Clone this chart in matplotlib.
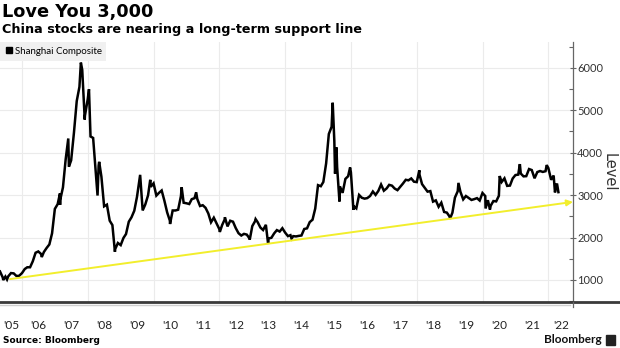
import numpy as np
import pandas as pd
import matplotlib
matplotlib.use("Agg")
import matplotlib.pyplot as plt
from matplotlib.lines import Line2D

# ---- data ----
monthly_close = [
    1060, 1080, 1083, 1162, 1155, 1092, 1099, 1161,                      # 2005 May-Dec
    1258, 1299, 1299, 1440, 1641, 1672, 1612, 1658, 1752, 1837, 2099, 2675,
    2786, 2881, 3183, 3841, 4109, 3820, 4471, 5218, 5552, 5954, 4871, 5262,
    4383, 4348, 3473, 3693, 3433, 2736, 2775, 2397, 2293, 1728, 1871, 1821,
    1991, 2082, 2373, 2477, 2632, 2959, 3412, 2667, 2779, 2996, 3195, 3277,
    2989, 3051, 3109, 2870, 2592, 2398, 2638, 2638, 2656, 2978, 2820, 2808,
    2790, 2905, 2928, 2911, 2743, 2762, 2701, 2567, 2359, 2468, 2333, 2199,
    2292, 2428, 2262, 2396, 2373, 2225, 2103, 2047, 2086, 2069, 1980, 2269,
    2385, 2365, 2236, 2177, 2300, 1979, 1993, 2098, 2175, 2141, 2220, 2116,
    2033, 2056, 2033, 2026, 2039, 2048, 2201, 2217, 2364, 2420, 2683, 3235,
    3210, 3310, 3748, 4441, 4612, 4277, 3664, 3206, 3053, 3383, 3445, 3539,
    2738, 2688, 3004, 2938, 2917, 2930, 2979, 3085, 3005, 3100, 3250, 3104,
    3159, 3242, 3223, 3155, 3117, 3192, 3273, 3361, 3349, 3393, 3317, 3307,
    3481, 3259, 3169, 3082, 3095, 2847, 2876, 2725, 2821, 2603, 2588, 2494,
    2585, 2941, 3091, 3078, 2899, 2979, 2933, 2886, 2905, 2929, 2872, 3050,
    2977, 2880, 2750, 2860, 2852, 2985, 3310, 3396, 3218, 3225, 3392, 3473,
    3483, 3509, 3442, 3447, 3615, 3591, 3397, 3544, 3568, 3547, 3564, 3640,
    3361, 3462, 3253,                                                    # 2022 Jan-Mar
]
month_ends = pd.date_range("2005-05-31", periods=len(monthly_close), freq="ME")

# intra-month highs / lows
swing_dates = [
    "2005-05-01", "2005-06-06", "2005-07-18", "2006-08-08", "2007-02-26",
    "2007-02-27", "2007-05-29", "2007-06-05", "2007-10-16", "2007-11-28",
    "2008-01-14", "2008-04-18", "2008-05-06", "2008-10-28", "2009-08-04",
    "2009-09-01", "2009-11-24", "2010-07-02", "2010-11-08", "2011-04-18",
    "2012-01-06", "2012-03-02", "2012-12-03", "2013-02-06", "2013-06-25",
    "2014-03-12", "2015-06-12", "2015-07-08", "2015-07-24", "2015-08-26",
    "2015-12-22", "2016-01-28", "2018-01-29", "2019-01-04", "2019-04-08",
    "2020-02-03", "2020-03-23", "2020-07-09", "2021-02-18", "2021-12-13",
    "2022-03-15", "2022-04-08", "2022-04-22",
]
swing_levels = [
    1200, 998, 1010, 1540, 3040,
    2770, 4335, 3670, 6124, 4780,
    5497, 2990, 3786, 1664, 3478,
    2639, 3361, 2319, 3186, 3067,
    2132, 2478, 1949, 2434, 1849,
    1974, 5178, 3507, 4124, 2850,
    3651, 2655, 3587, 2440, 3288,
    2685, 2660, 3450, 3731, 3708,
    3064, 3251, 3070,
]

# support line end points
support_dates = ["2005-08-20", "2022-10-01"]
support_levels = [1020, 2840]

year_labels = ["'05", "'06", "'07", "'08", "'09", "'10", "'11", "'12", "'13",
               "'14", "'15", "'16", "'17", "'18", "'19", "'20", "'21", "'22"]
level_ticks = [1000, 2000, 3000, 4000, 5000, 6000]

series = pd.concat([
    pd.Series(monthly_close, index=month_ends),
    pd.Series(swing_levels, index=pd.to_datetime(swing_dates)),
]).sort_index()

x_start, x_end = pd.Timestamp("2005-05-01"), pd.Timestamp("2022-10-01")

# ---- figure ----
fig = plt.figure(figsize=(6.2, 3.48), dpi=100)
ax = fig.add_axes([0.0, 1 - 302 / 348, 573 / 620, (302 - 42) / 348])

ax.plot(series.index, series.values, color="black", lw=1.8, solid_joinstyle="miter")

ax.annotate("", xy=(pd.Timestamp(support_dates[1]), support_levels[1]),
            xytext=(pd.Timestamp(support_dates[0]), support_levels[0]),
            arrowprops=dict(arrowstyle="-|>", color="#f2ee2c", lw=1.4,
                            mutation_scale=9, shrinkA=0, shrinkB=0),
            annotation_clip=False)

ax.set_xlim(x_start, x_end)
ax.set_ylim(480, 6610)

# gridlines every two years / every 1000
grid_years = [pd.Timestamp(f"{y}-01-01") for y in range(2006, 2023, 2)]
ax.set_xticks(grid_years)
ax.tick_params(axis="x", which="major", length=0, labelbottom=False)

# year labels centred on the visible part of each year
label_pos = []
for lab in year_labels:
    y = int("20" + lab[1:])
    a = max(pd.Timestamp(f"{y}-01-01"), x_start)
    b = min(pd.Timestamp(f"{y + 1}-01-01"), x_end)
    label_pos.append(a + (b - a) / 2)
ax.set_xticks(label_pos, minor=True)
ax.set_xticklabels(year_labels, minor=True)
ax.tick_params(axis="x", which="minor", length=0, pad=13, labelsize=8.5,
               labelcolor="#222")
ax.grid(True, which="major", color="#ebebeb", lw=0.8)

ax.yaxis.tick_right()
ax.set_yticks(level_ticks)
ax.set_yticks(np.arange(500, 6600, 500), minor=True)
ax.tick_params(axis="y", which="major", length=4, width=0.8, color="#666",
               pad=1, labelsize=8, labelcolor="#333", direction="inout")
ax.tick_params(axis="y", which="minor", length=3, width=0.8, color="#666",
               direction="in")
ax.yaxis.set_label_position("right")
ax.set_ylabel("Level", rotation=270, fontsize=10.5, color="#333", labelpad=10)

for s in ["top", "left", "bottom"]:
    ax.spines[s].set_visible(False)
ax.spines["right"].set_color("#666")
ax.spines["right"].set_linewidth(0.9)

for t in ax.get_xticklabels(minor=True) + ax.get_yticklabels():
    t.set_family("Lato")

leg = ax.legend([Line2D([], [], marker="s", color="black", ls="none", ms=5)],
                ["Shanghai Composite"], loc="upper left", bbox_to_anchor=(0, 1),
                borderaxespad=0, frameon=True, fancybox=False, handletextpad=0.2,
                handlelength=0.8, borderpad=0.5, prop={"family": "Lato", "size": 7})
leg.get_frame().set_facecolor("#f0f0f0")
leg.get_frame().set_edgecolor("none")
leg.get_frame().set_alpha(1)

# bottom rules
fig.add_artist(Line2D([0, 1], [1 - 302 / 348] * 2, color="#3a3a3a", lw=2))
fig.add_artist(Line2D([0, 0.92], [1 - 304.5 / 348] * 2, color="#cfcfcf", lw=1))
fig.add_artist(Line2D([573 / 620] * 2, [1 - 302 / 348, 1 - 307 / 348],
                      color="#666", lw=0.9))

# titles and footer
fig.text(0.003, 1 - 3 / 348, "Love You 3,000", fontsize=12.8, fontweight="bold",
         va="top", ha="left", color="black")
fig.text(0.003, 1 - 23 / 348, "China stocks are nearing a long-term support line",
         fontsize=9.2, fontweight="bold", va="top", ha="left", color="black")
fig.text(0.005, 1 - 345 / 348, "Source: Bloomberg", fontsize=6.5,
         fontweight="bold", va="bottom", ha="left", color="black")
fig.text(602 / 620, 1 - 345 / 348, "Bloomberg", fontsize=8.5, family="Lato",
         fontweight="bold", va="bottom", ha="right", color="#111")
fig.patches.append(plt.Rectangle((606 / 620, 1 - 345 / 348), 9 / 620, 10 / 348,
                                 transform=fig.transFigure, color="#222"))

fig.savefig("out.png", dpi=100)
